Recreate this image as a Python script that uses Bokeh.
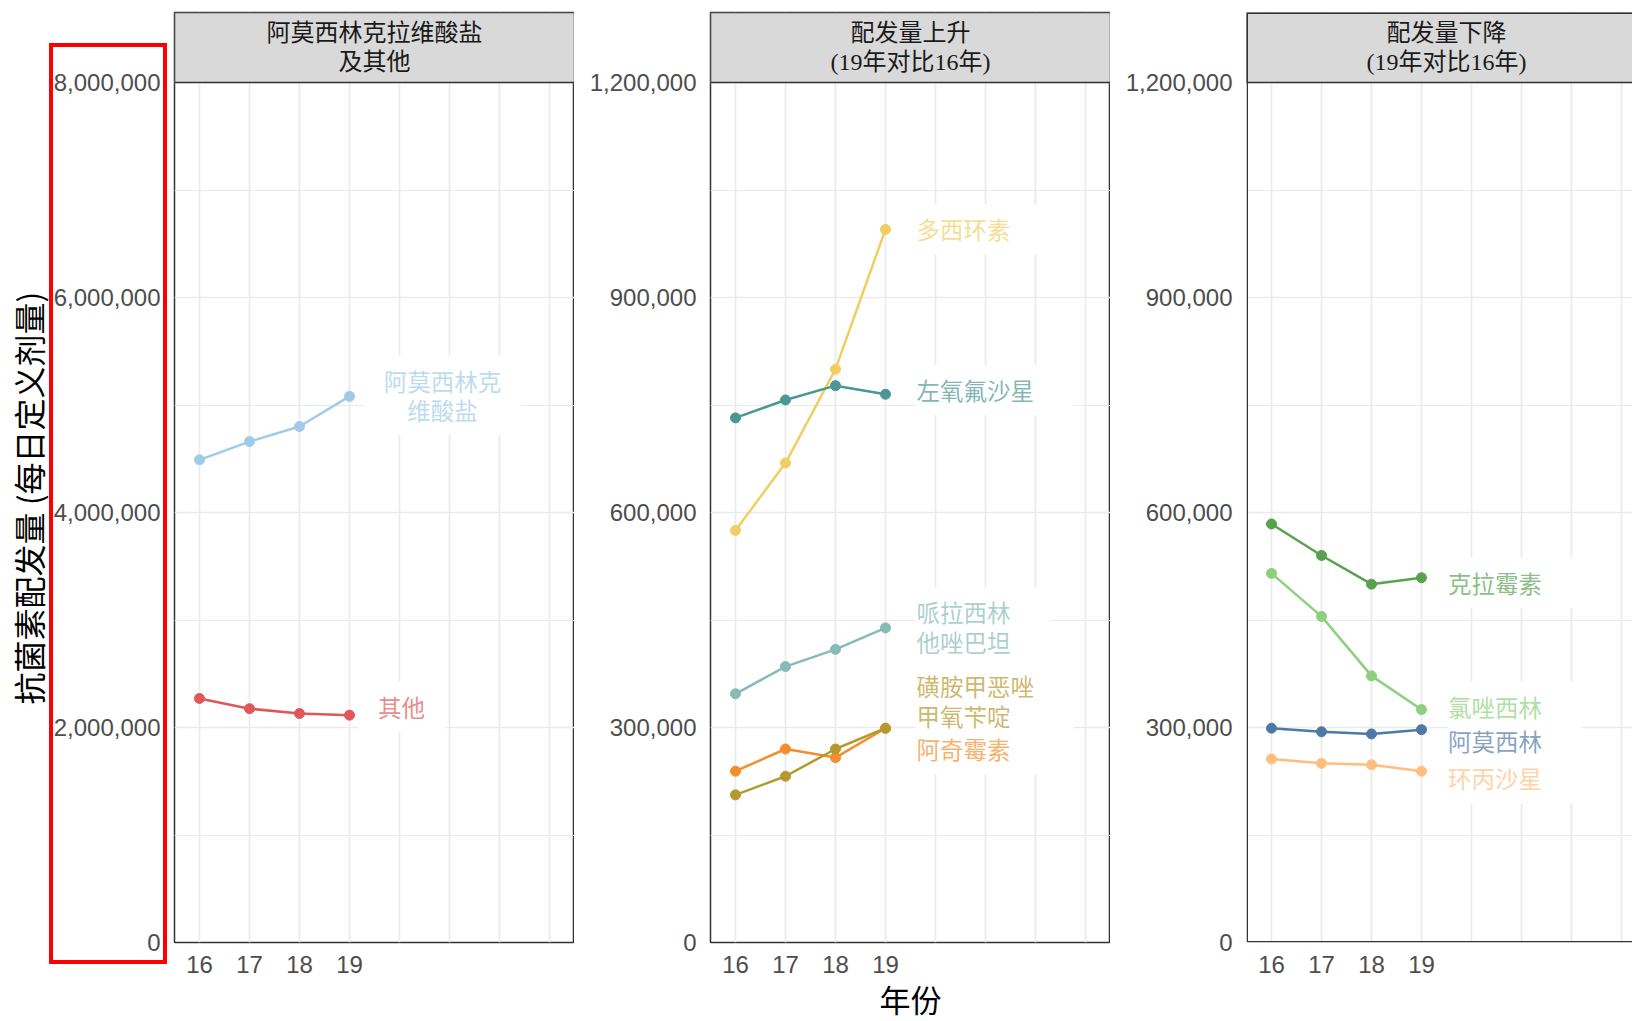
from bokeh.core.properties import value
from bokeh.embed import file_html
from bokeh.layouts import row
from bokeh.models import BoxAnnotation, FixedTicker, NumeralTickFormatter, Range1d, Title
from bokeh.plotting import figure
from bokeh.resources import INLINE

# ---------------------------------------------------------------- data
years = [16, 17, 18, 19]

# panel 1: co-amoxiclav and everything else (DDD)
co_amoxiclav = [4.49e6, 4.66e6, 4.80e6, 5.08e6]
other = [2.27e6, 2.175e6, 2.13e6, 2.115e6]

# panel 2: rising (2019 vs 2016)
doxycycline = [575e3, 669e3, 800e3, 995e3]
levofloxacin = [732e3, 757e3, 777e3, 765e3]
pip_tazo = [347e3, 385e3, 409e3, 439e3]
azithromycin = [239e3, 270e3, 258e3, 299e3]
co_trimoxazole = [206e3, 232e3, 270e3, 299e3]

# panel 3: falling (2019 vs 2016)
clarithromycin = [584e3, 540e3, 500e3, 509e3]
flucloxacillin = [515e3, 455e3, 372e3, 325e3]
amoxicillin = [299e3, 294e3, 291e3, 297e3]
ciprofloxacin = [256e3, 250e3, 248e3, 239e3]

strip_titles = ["阿莫西林克拉维酸盐\n及其他", "配发量上升\n(19年对比16年)", "配发量下降\n(19年对比16年)"]
y_title = "抗菌素配发量 (每日定义剂量)"
x_title = "年份"

# (label, values, colour) per panel, in drawing order
panel_series = [
    [("阿莫西林克\n维酸盐", co_amoxiclav, "#a0cbe8"),
     ("其他", other, "#e15759")],
    [("多西环素", doxycycline, "#f1ce63"),
     ("左氧氟沙星", levofloxacin, "#499894"),
     ("哌拉西林\n他唑巴坦", pip_tazo, "#86bcb6"),
     ("阿奇霉素", azithromycin, "#f28e2b"),
     ("磺胺甲恶唑\n甲氧苄啶", co_trimoxazole, "#b6992d")],
    [("克拉霉素", clarithromycin, "#59a14f"),
     ("氯唑西林", flucloxacillin, "#8cd17d"),
     ("阿莫西林", amoxicillin, "#4e79a7"),
     ("环丙沙星", ciprofloxacin, "#ffbe7d")],
]

# where each repelled name label sits (data coordinates of its anchor)
label_anchor = {
    "阿莫西林克\n维酸盐": (20.86, 5.09e6),
    "其他": (20.04, 2.195e6),
    "多西环素": (19.62, 995e3),
    "左氧氟沙星": (19.62, 771e3),
    "哌拉西林\n他唑巴坦": (19.62, 440e3),
    "磺胺甲恶唑\n甲氧苄啶": (19.62, 337e3),
    "阿奇霉素": (19.62, 270e3),
    "克拉霉素": (19.53, 502e3),
    "氯唑西林": (19.53, 329e3),
    "阿莫西林": (19.53, 281e3),
    "环丙沙星": (19.53, 229e3),
}

y_limits = [8e6, 1.2e6, 1.2e6]
y_major = [[0, 2e6, 4e6, 6e6, 8e6], [0, 3e5, 6e5, 9e5, 1.2e6], [0, 3e5, 6e5, 9e5, 1.2e6]]
y_minor = [[1e6, 3e6, 5e6, 7e6], [1.5e5, 4.5e5, 7.5e5, 1.05e6], [1.5e5, 4.5e5, 7.5e5, 1.05e6]]

# ---------------------------------------------------------------- layout
PANEL_H = 860          # plotting area height in px
STRIP_H = 70           # facet strip height in px (sits on top of the plotting area)
TOP = 12
BOTTOM = 79
left_borders = [174, 136, 136]
frame_widths = [400, 400, 386]
PX_PER_YEAR = 50

CJK = "Noto Sans CJK SC"
GRID = "#ebebeb"
BORDER = "#333333"

# red highlight box around the first panel's value scale
highlight_css = """
:host::after {
  content: "";
  box-sizing: border-box;
  position: absolute;
  left: 49px;
  top: 43px;
  width: 118px;
  height: 921px;
  border: 4px solid #ff0000;
  pointer-events: none;
  z-index: 100;
}
"""


def make_panel(i):
    lb, fw = left_borders[i], frame_widths[i]
    x_end = 15.5 + fw / PX_PER_YEAR
    ymax = y_limits[i]
    y_top = ymax * (1 + STRIP_H / PANEL_H)
    p = figure(
        frame_width=fw, frame_height=PANEL_H + STRIP_H,
        min_border_left=lb, min_border_right=0,
        min_border_top=TOP, min_border_bottom=BOTTOM,
        x_range=Range1d(15.5, x_end), y_range=Range1d(0, y_top),
        output_backend="svg", toolbar_location=None,
        background_fill_color="white", border_fill_color="white",
    )

    # axes
    p.xaxis.ticker = FixedTicker(ticks=years)
    yt = FixedTicker(ticks=y_major[i], minor_ticks=y_minor[i])
    p.yaxis.ticker = yt
    p.yaxis.formatter = NumeralTickFormatter(format="0,0")
    for ax in (p.xaxis[0], p.yaxis[0]):
        ax.axis_line_color = None
        ax.major_tick_line_color = None
        ax.minor_tick_line_color = None
        ax.major_tick_out = 0
        ax.minor_tick_out = 0
        ax.major_label_text_font = "Liberation Sans"
        ax.major_label_text_font_size = "24px"
        ax.major_label_text_color = "#4d4d4d"
        ax.axis_label_text_font = CJK
        ax.axis_label_text_font_size = "31px"
        ax.axis_label_text_font_style = "normal"
        ax.axis_label_text_color = "#000000"
    p.xaxis.major_label_standoff = 13
    p.yaxis.major_label_standoff = 14

    # grid
    p.xgrid.ticker = FixedTicker(ticks=list(range(16, 24)))
    p.xgrid.grid_line_color = GRID
    p.xgrid.grid_line_width = 1.7
    p.ygrid.ticker = yt
    p.ygrid.grid_line_color = GRID
    p.ygrid.grid_line_width = 1.7
    p.ygrid.minor_grid_line_color = GRID
    p.ygrid.minor_grid_line_width = 1.1

    # panel border (the last panel runs off the right edge, so no right side)
    if i < 2:
        p.outline_line_color = BORDER
        p.outline_line_width = 1.5
        p.outline_line_alpha = 1
        strip_right = x_end
    else:
        p.outline_line_color = None
        dx = 0.75 / PX_PER_YEAR
        dy = 0.75 * ymax / PANEL_H
        p.add_layout(BoxAnnotation(
            left=15.5 + dx, right=x_end + 1, bottom=dy, top=y_top - dy,
            fill_color=None, line_color=BORDER, line_width=1.5, line_alpha=1))
        strip_right = x_end + 1

    # facet strip across the top of the plotting area
    p.add_layout(BoxAnnotation(
        left=15.5, right=strip_right, bottom=ymax, top=y_top,
        fill_color="#d9d9d9", fill_alpha=1, line_color=BORDER, line_width=1.5, line_alpha=1,
        level="underlay"))
    p.text(x=[15.5 + 200 / PX_PER_YEAR], y=[(ymax + y_top) / 2], text=[strip_titles[i]],
           text_font=value("Liberation Serif, Noto Sans CJK SC"), text_font_size=value("24px"),
           text_color="#1a1a1a", text_align="center", text_baseline="middle",
           text_line_height=1.12)

    # series
    align = "center" if i == 0 else "left"
    pad = dict(left=20, right=20, top=8, bottom=8) if i == 0 else dict(left=10, right=30, top=8, bottom=8)
    for name, vals, color in panel_series[i]:
        p.line(years, vals, line_color=color, line_width=2.5)
        p.scatter(years, vals, size=10, color=color)
    names = [s[0] for s in panel_series[i]]
    colors = [s[2] for s in panel_series[i]]
    lx = [label_anchor[n][0] for n in names]
    ly = [label_anchor[n][1] for n in names]
    text_kw = dict(text_font=value(CJK), text_font_size=value("23.5px"),
                   text_align=align, text_baseline="middle", text_line_height=0.87)
    # white label boxes first, then the names on top of them
    p.text(x=lx, y=ly, text=names, text_alpha=0, background_fill_color="white",
           padding=pad, **text_kw)
    p.text(x=lx, y=ly, text=names, text_color=colors, text_alpha=0.7, **text_kw)
    return p


panels = [make_panel(i) for i in range(3)]

# shared value-axis title, anchored from the bottom of the plotting area
panels[0].add_layout(Title(
    text=y_title, align="left", offset=238, standoff=0,
    text_font=CJK, text_font_size="32px", text_font_style="normal",
    text_color="#000000"), "left")
panels[1].xaxis.axis_label = x_title
panels[1].xaxis.axis_label_standoff = 0
panels[0].stylesheets = [highlight_css]

layout = row(*panels, spacing=0)

with open("out.html", "w") as f:
    f.write(file_html(layout, INLINE))
